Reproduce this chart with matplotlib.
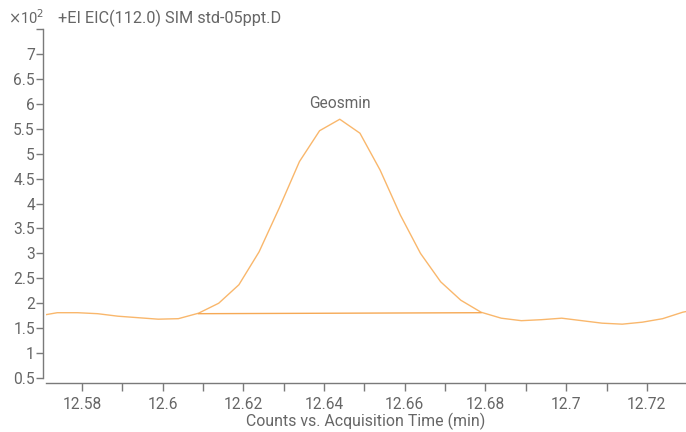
import matplotlib
matplotlib.use("Agg")

import matplotlib.pyplot as plt
from matplotlib.ticker import FixedLocator

# EIC trace (scan every 0.005 min), counts in units of 1e2
times = [12.5689, 12.5739, 12.5789, 12.5839, 12.5889, 12.5939, 12.5989,
         12.6039, 12.6089, 12.6139, 12.6189, 12.6239, 12.6289, 12.6339,
         12.6389, 12.6439, 12.6489, 12.6539, 12.6589, 12.6639, 12.6689,
         12.6739, 12.6789, 12.6839, 12.6889, 12.6939, 12.6989, 12.7039,
         12.7089, 12.7139, 12.7189, 12.7239, 12.7289, 12.7339]
counts = [1.74, 1.81, 1.81, 1.79, 1.74, 1.71, 1.68,
          1.69, 1.80, 2.00, 2.37, 3.03, 3.91, 4.84,
          5.46, 5.69, 5.41, 4.67, 3.77, 3.00, 2.43,
          2.06, 1.82, 1.70, 1.65, 1.67, 1.70, 1.65,
          1.60, 1.58, 1.62, 1.69, 1.82, 1.90]

# integration baseline under the peak
base_t = [12.6089, 12.6789]
base_y = [1.79, 1.81]

peak_name = "Geosmin"
peak_t = 12.6439
peak_y = 5.69

plt.rcParams["font.family"] = ["Roboto", "DejaVu Sans"]
text_col = "#666666"
axis_col = "#7a7a7a"
line_col = "#f9b76c"

fig = plt.figure(figsize=(6.86, 4.32), dpi=100)
ax = fig.add_axes([46 / 686, 49 / 432, 640 / 686, (383 - 29) / 432])

ax.plot(times, counts, color=line_col, lw=1.0)
ax.plot(base_t, base_y, color="#f6a955", lw=1.0)
ax.text(peak_t, peak_y + 0.17, peak_name, ha="center", va="bottom",
        fontsize=11.2, color=text_col)

ax.set_xlim(12.5711, 12.7297)
ax.set_ylim(0.4, 7.5)

xt = [12.58, 12.6, 12.62, 12.64, 12.66, 12.68, 12.7, 12.72]
ax.xaxis.set_major_locator(FixedLocator(xt))
ax.set_xticklabels([f"{v:g}" for v in xt])
ax.xaxis.set_minor_locator(FixedLocator([12.59, 12.61, 12.63, 12.65, 12.67, 12.69, 12.71]))

yt = [0.5, 1, 1.5, 2, 2.5, 3, 3.5, 4, 4.5, 5, 5.5, 6, 6.5, 7, 7.5]
ax.set_yticks(yt)
ax.set_yticklabels([f"{v:g}" for v in yt[:-1]] + [""])

for s in ["top", "right"]:
    ax.spines[s].set_visible(False)
ax.spines["left"].set_position(("outward", 2))
ax.spines["left"].set_bounds(0.5, 7.5)
for s in ["left", "bottom"]:
    ax.spines[s].set_color(axis_col)
    ax.spines[s].set_linewidth(1.0)

ax.tick_params(axis="x", which="both", length=6, width=1, color=axis_col,
               labelcolor=text_col, labelsize=11.2, pad=4)
ax.tick_params(axis="y", length=5, width=1, color=axis_col,
               labelcolor=text_col, labelsize=11.2, pad=1)

ax.set_xlabel("Counts vs. Acquisition Time (min)", fontsize=11.4, color=text_col, labelpad=0.5)

fig.text(8 / 686, 1 - 18 / 432, r"$\times$10$^2$", fontsize=10.5, color=text_col, va="center")
fig.text(58 / 686, 1 - 18 / 432, "+EI EIC(112.0) SIM std-05ppt.D", fontsize=11.7,
         color=text_col, va="center")

fig.savefig("out.png", dpi=100)
